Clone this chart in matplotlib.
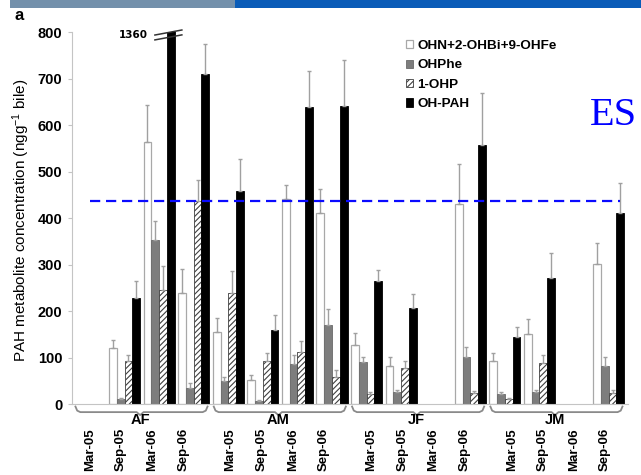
import numpy as np
import matplotlib
matplotlib.use('Agg')
import matplotlib.pyplot as plt
from matplotlib.patches import Rectangle, Patch
import matplotlib.transforms as mtransforms

plt.rcParams['font.family'] = ['Liberation Sans', 'DejaVu Sans']
plt.rcParams['mathtext.default'] = 'regular'
plt.rcParams['hatch.linewidth'] = 0.8

# ---------------- data ----------------
groups = ['AF', 'AM', 'JF', 'JM']
periods = ['Mar-05', 'Sep-05', 'Mar-06', 'Sep-06']
series_names = ['OHN+2-OHBi+9-OHFe', 'OHPhe', '1-OHP', 'OH-PAH']
nan = np.nan

ohn = [nan, 120, 563, 240, 155, 52, 441, 411, 127, 82, nan, 430, 92, 150, nan, 301]
ohn_err = [nan, 18, 81, 51, 31, 11, 31, 51, 26, 19, nan, 87, 18, 33, nan, 46]
ohphe = [nan, 11, 353, 34, 51, 8, 87, 170, 90, 27, nan, 102, 22, 27, nan, 83]
ohphe_err = [nan, 3, 40, 11, 8, 2, 19, 35, 11, 4, nan, 22, 4, 4, nan, 18]
ohp = [nan, 94, 246, 436, 240, 93, 113, 59, 22, 79, nan, 24, 11, 89, nan, 25]
ohp_err = [nan, 12, 52, 45, 47, 17, 22, 15, 4, 15, nan, 5, 3, 17, nan, 5]
ohpah = [nan, 228, 1360, 710, 458, 160, 638, 641, 264, 206, nan, 558, 145, 271, nan, 410]
ohpah_err = [nan, 36, nan, 64, 69, 32, 79, 99, 25, 31, nan, 111, 21, 54, nan, 65]

threshold = 436
broken_label = '1360'
y_max = 800
y_ticks = [0, 100, 200, 300, 400, 500, 600, 700, 800]

# ---------------- figure ----------------
W, H = 641, 475
fig = plt.figure(figsize=(W / 100, H / 100), dpi=100)
fig.patch.set_facecolor('white')

# decorative top band
fig.patches.append(Rectangle((10 / W, 1 - 8 / H), 225 / W, 8 / H, transform=fig.transFigure,
                             facecolor='#7390ab', edgecolor='none'))
fig.patches.append(Rectangle((235 / W, 1 - 8 / H), 406 / W, 8 / H, transform=fig.transFigure,
                             facecolor='#0a5cb8', edgecolor='none'))

ax = fig.add_axes([72 / W, 1 - 404.3 / H, 556 / W, 372.3 / H])

n_cat = len(groups) * len(periods)
x = np.arange(n_cat)
bw = 0.225
offs = (np.arange(4) - 1.5) * bw

vals = [ohn, ohphe, ohp, ohpah]
errs = [ohn_err, ohphe_err, ohp_err, ohpah_err]
styles = [
    dict(facecolor='white', edgecolor='#a8a8a8', linewidth=0.9),
    dict(facecolor='#7d7d7d', edgecolor='#6a6a6a', linewidth=0.6),
    dict(facecolor='white', edgecolor='#404040', linewidth=0.6, hatch='//////'),
    dict(facecolor='black', edgecolor='black', linewidth=0.6),
]

for k in range(4):
    v = np.array(vals[k], dtype=float)
    e = np.array(errs[k], dtype=float)
    ax.bar(x + offs[k], v, width=bw, zorder=2, **styles[k])
    mask = ~np.isnan(v) & ~np.isnan(e)
    ax.errorbar((x + offs[k])[mask], v[mask], yerr=[np.zeros(mask.sum()), e[mask]],
                fmt='none', ecolor='#a0a0a0', elinewidth=1.0, capsize=1.5, capthick=1.0, zorder=3)

ax.set_ylim(0, y_max)
ax.set_xlim(-0.52, 15.56)

# threshold line
ax.plot([0, 15.33], [threshold, threshold], color='#0a0aff', lw=1.6,
        linestyle=(0, (4.6, 2.6)), zorder=5, clip_on=False)

# axis break marks on the over-range bar
ib = int(np.nanargmax(np.array(ohpah, dtype=float)))
xb = ib + offs[3]
for dy in (0, -10.5):
    ax.plot([xb - 0.46, xb + 0.32], [793.5 + dy, 804.3 + dy], color='#333333', lw=1.1,
            clip_on=False, zorder=6)
ax.text(xb - 0.66, 794, broken_label, ha='right', va='center', fontsize=7.5,
        fontweight='bold', family='DejaVu Sans')

# spines / ticks
for s in ('top', 'right'):
    ax.spines[s].set_visible(False)
ax.spines['left'].set_color('#c4c4c4')
ax.spines['bottom'].set_color('#c4c4c4')
ax.set_yticks(y_ticks)
ax.set_yticklabels([str(t) for t in y_ticks], fontsize=10.5, fontweight='bold')
ax.tick_params(axis='y', length=3, color='#c4c4c4', pad=4)

label_pos = [g * 4.065 + j * 0.9 for g in range(len(groups)) for j in range(len(periods))]
ax.set_xticks(label_pos)
ax.set_xticklabels(periods * len(groups), rotation=90, fontsize=9.5, fontweight='bold')
ax.tick_params(axis='x', length=0, pad=17)

# group brackets and labels
tr = mtransforms.blended_transform_factory(ax.transData, ax.transAxes)
for g, name in enumerate(groups):
    x0 = 4 * g - 0.42
    x1 = 4 * g + 3.4
    xc = 4 * g + 1.45
    xs = [x0, x0 + 0.05, x0 + 0.14, xc - 0.1, xc, xc + 0.1, x1 - 0.14, x1 - 0.05, x1]
    ys = [-0.006, -0.017, -0.021, -0.021, -0.029, -0.021, -0.021, -0.017, -0.006]
    ax.plot(xs, ys, transform=tr, color='#8a8a8a', lw=1.3, clip_on=False)
    ax.text(xc, -0.043, name, transform=tr, ha='center', va='center', fontsize=10.5,
            fontweight='bold')

# legend
handles = [Patch(**styles[k]) for k in range(4)]
ax.legend(handles, series_names, loc='upper left', bbox_to_anchor=(406 / W, 1 - 40 / H),
          bbox_transform=fig.transFigure, frameon=False, prop={'weight': 'bold', 'size': 9.7},
          handlelength=0.55, handleheight=0.55, handletextpad=0.3, labelspacing=0.55,
          borderpad=0, borderaxespad=0)

# texts
fig.text(21.5 / W, 1 - 220.5 / H, 'PAH metabolite concentration (ngg$^{-1}$ bile)',
         rotation=90, ha='center', va='center', fontsize=11)
fig.text(19 / W, 1 - 16 / H, 'a', ha='center', va='center', fontsize=12, fontweight='bold')
fig.text(613 / W, 1 - 125 / H, 'ES', color='#0000ff', fontsize=29, family='Liberation Serif',
         ha='center', va='baseline')

fig.savefig('out.png', dpi=100)
